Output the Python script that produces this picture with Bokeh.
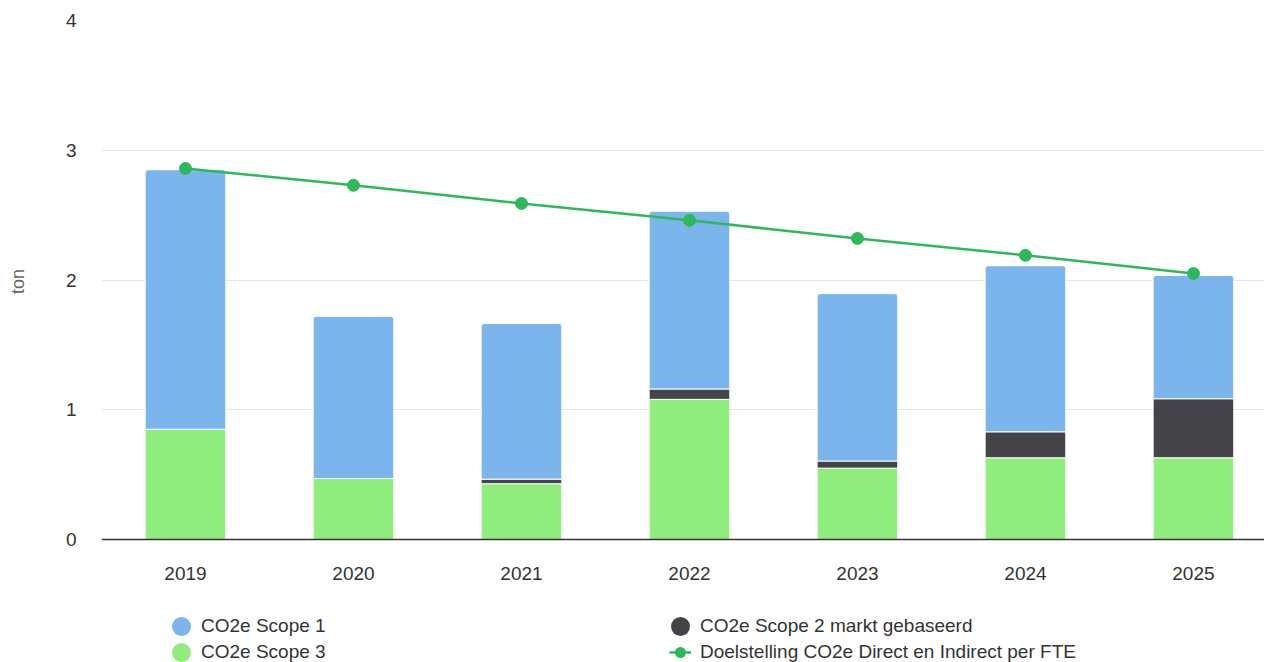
import math
from bokeh.plotting import figure
from bokeh.models import Range1d, FixedTicker, Legend, LegendItem, ColumnDataSource
from bokeh.embed import file_html
from bokeh.resources import INLINE

# ---- data ----
years = ["2019", "2020", "2021", "2022", "2023", "2024", "2025"]
scope3 = [0.85, 0.47, 0.43, 1.08, 0.55, 0.63, 0.63]
scope2 = [0.0, 0.0, 0.035, 0.08, 0.055, 0.20, 0.455]
scope1 = [2.00, 1.25, 1.20, 1.37, 1.29, 1.28, 0.95]
target = [2.86, 2.73, 2.59, 2.46, 2.32, 2.19, 2.05]
y_ticks = [0, 1, 2, 3, 4]
series_names = ["CO2e Scope 1", "CO2e Scope 3", "CO2e Scope 2 markt gebaseerd",
                "Doelstelling CO2e Direct en Indirect per FTE"]
y_title = "ton"

# ---- style ----
BLUE = "#7cb5ec"
DARK = "#434348"
GREEN = "#90ed7d"
LINE = "#2eb85c"
FONT = "Liberation Sans"

xs = list(range(len(years)))
src = ColumnDataSource(dict(x=xs, scope3=scope3, scope2=scope2, scope1=scope1, target=target))

# frame reaches the bottom of the figure; the x axis is pinned at y = 0
p = figure(width=1264, height=662, output_backend="svg", toolbar_location=None,
           x_range=Range1d(-0.5, 6.423), y_range=Range1d(-123 / 129.75, 4),
           min_border_left=101, min_border_right=0, min_border_top=20, min_border_bottom=0)
p.outline_line_color = None
p.background_fill_color = "white"
p.border_fill_color = "white"

bars = p.vbar_stack(["scope3", "scope2", "scope1"], x="x", width=0.48,
                    color=[GREEN, DARK, BLUE], line_color="white", line_width=1, source=src)
bars[2].glyph.border_radius = (3, 3, 0, 0)

ln = p.line(x="x", y="target", source=src, line_color=LINE, line_width=2.5)
p.scatter(x="x", y="target", source=src, size=12, fill_color=LINE, line_color=LINE)

# axes
p.xaxis.fixed_location = 0
p.xaxis.ticker = FixedTicker(ticks=xs)
p.xaxis.major_label_overrides = {i: y for i, y in zip(xs, years)}
p.xaxis.major_tick_line_color = None
p.xaxis.minor_tick_line_color = None
p.xaxis.major_label_standoff = 21
p.xaxis.axis_line_color = "#333333"
p.xaxis.axis_line_width = 1.5
p.xaxis.major_label_text_font = FONT
p.xaxis.major_label_text_font_size = "19px"
p.xaxis.major_label_text_color = "#333333"

p.yaxis.ticker = FixedTicker(ticks=y_ticks)
p.yaxis.axis_line_color = None
p.yaxis.major_tick_line_color = None
p.yaxis.minor_tick_line_color = None
p.yaxis.major_label_standoff = 19
p.yaxis.major_label_text_font = FONT
p.yaxis.major_label_text_font_size = "19px"
p.yaxis.major_label_text_color = "#333333"
# leading no-break spaces lift the label to the middle of the 0..4 span
p.yaxis.axis_label = "\u00a0" * 24 + y_title
p.yaxis.axis_label_text_font = FONT
p.yaxis.axis_label_text_font_size = "18px"
p.yaxis.axis_label_text_font_style = "normal"
p.yaxis.axis_label_text_color = "#666666"
p.yaxis.axis_label_standoff = 35

p.xgrid.visible = False
p.ygrid.grid_line_color = "#e6e6e6"
p.ygrid.grid_line_width = 1

# legend proxies (round dots drawn by zero-length dashes); NaN data so nothing shows in the plot
def dot(color, w):
    return p.line(x=[math.nan], y=[math.nan], line_color=color, line_width=w, line_cap="round",
                  line_dash="0 100", line_dash_offset=-11)

d1 = dot(BLUE, 19)
d3 = dot(GREEN, 19)
d2 = dot(DARK, 19)
dl = dot(LINE, 11)

legend = Legend(items=[
    LegendItem(label=series_names[0], renderers=[d1]),
    LegendItem(label=series_names[1], renderers=[d3]),
    LegendItem(label=series_names[2], renderers=[d2]),
    LegendItem(label=series_names[3], renderers=[ln, dl]),
], location=(69, -1), orientation="vertical", nrows=2,
    glyph_width=22, glyph_height=20, label_height=20, label_standoff=9,
    label_width=464, spacing=4, padding=0, margin=0,
    label_text_font=FONT, label_text_font_size="19px", label_text_color="#333333",
    background_fill_alpha=0, border_line_color=None)
p.add_layout(legend)

open("out.html", "w").write(file_html(p, INLINE))
